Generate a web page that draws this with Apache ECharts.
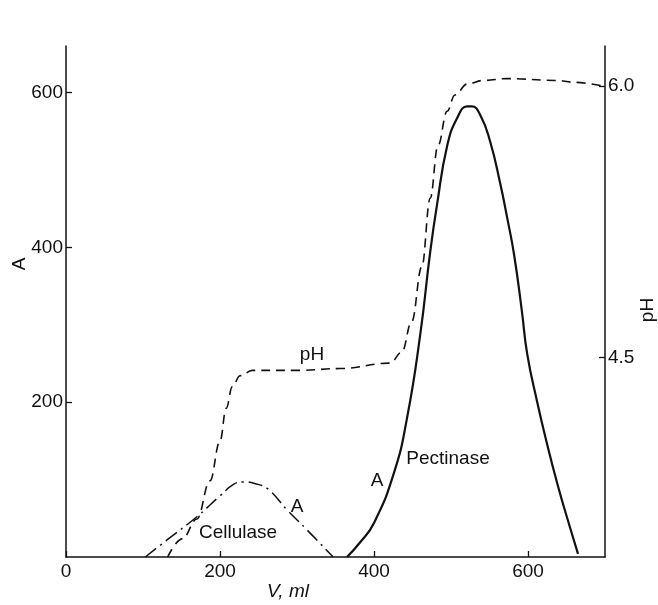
<!DOCTYPE html>
<html><head><meta charset="utf-8">
<script src="https://cdn.jsdelivr.net/npm/echarts@6/dist/echarts.min.js"></script>
<style>html,body{margin:0;padding:0;background:#fff}#c{width:658px;height:605px}</style>
</head><body><div id="c"></div>
<script>
// V, ml (x) and activity A / pH values
const pectinaseV = [365,382,400,426,443,460,473,482,495,508,521,527,538,551,564,573,582,592,599,612,625,638,651,665];
const pectinaseA = [0,19,44,109,180,287,394,456,531,567,582,582,571,536,482,438,390,318,262,200,145,95,50,4];
const celluloseV = [103,135,170,200,218,230,245,262,287,313,347];
const celluloseA = [0,25,52,79,94,97,95,88,61,35,0];
const phV = [132,151,170,187,200,208,216,226,242,304,356,421,436,449,462,473,483,495,505,521,542,573,638,658,697];
const phVal = [3.40,3.50,3.61,3.82,4.04,4.22,4.34,4.40,4.43,4.43,4.44,4.47,4.53,4.70,5.00,5.38,5.67,5.86,5.95,6.01,6.03,6.04,6.03,6.02,6.00];
const xTicks = [0,200,400,600];
const aTicks = [200,400,600];
const phTicks = [4.5,6.0];

const zip = (a,b) => a.map((v,i)=>[v,b[i]]);
const FONT = 'Liberation Sans';
const txt = {color:'#111', fontFamily:FONT, fontSize:19};
const axLine = {show:true, lineStyle:{color:'#111', width:1.5}};
const tick = (vals)=>({show:true, inside:true, length:6, customValues:vals, lineStyle:{color:'#111', width:1.3}});

const chart = echarts.init(document.getElementById('c'), null, {renderer:'canvas'});
chart.setOption({
  animation:false,
  backgroundColor:'#fff',
  grid:{left:66, right:53, top:46, bottom:48, containLabel:false, outerBoundsMode:'none'},
  xAxis:{type:'value', min:0, max:700, axisLine:axLine, splitLine:{show:false},
    axisTick:tick(xTicks), axisLabel:Object.assign({customValues:xTicks, margin:5}, txt)},
  yAxis:[
    {type:'value', min:0, max:660, position:'left', axisLine:axLine, splitLine:{show:false},
      axisTick:tick(aTicks), axisLabel:Object.assign({customValues:aTicks, margin:3}, txt)},
    {type:'value', min:3.4, max:6.22, position:'right', axisLine:axLine, splitLine:{show:false},
      axisTick:tick(phTicks), axisLabel:Object.assign({customValues:phTicks, margin:3, formatter:v=>v.toFixed(1)}, txt)}
  ],
  series:[
    {type:'line', name:'pH', yAxisIndex:1, data:zip(phV,phVal), showSymbol:false, smooth:0.4, smoothMonotone:'x',
      lineStyle:{color:'#111', width:1.6, type:[9,6]}},
    {type:'line', name:'Cellulase', yAxisIndex:0, data:zip(celluloseV,celluloseA), showSymbol:false, smooth:0.45,
      lineStyle:{color:'#111', width:1.5, type:[14,5,2,5]}},
    {type:'line', name:'Pectinase', yAxisIndex:0, data:zip(pectinaseV,pectinaseA), showSymbol:false, smooth:0.5,
      lineStyle:{color:'#111', width:2.2}}
  ],
  graphic:[
    {type:'text', x:20, y:264, rotation:Math.PI/2, style:{text:'A', fill:'#111', font:'19px '+FONT, align:'center', verticalAlign:'middle'}},
    {type:'text', x:648, y:310, rotation:Math.PI/2, style:{text:'pH', fill:'#111', font:'19px '+FONT, align:'center', verticalAlign:'middle'}},
    {type:'text', x:288, y:592, style:{text:'V, ml', fill:'#111', font:'italic 19px '+FONT, align:'center', verticalAlign:'middle'}},
    {type:'text', x:312, y:355, style:{text:'pH', fill:'#111', font:'19px '+FONT, align:'center', verticalAlign:'middle'}},
    {type:'text', x:238, y:533, style:{text:'Cellulase', fill:'#111', font:'19px '+FONT, align:'center', verticalAlign:'middle'}},
    {type:'text', x:297, y:507, style:{text:'A', fill:'#111', font:'19px '+FONT, align:'center', verticalAlign:'middle'}},
    {type:'text', x:377, y:481, style:{text:'A', fill:'#111', font:'19px '+FONT, align:'center', verticalAlign:'middle'}},
    {type:'text', x:448, y:459, style:{text:'Pectinase', fill:'#111', font:'19px '+FONT, align:'center', verticalAlign:'middle'}}
  ]
});
</script></body></html>
